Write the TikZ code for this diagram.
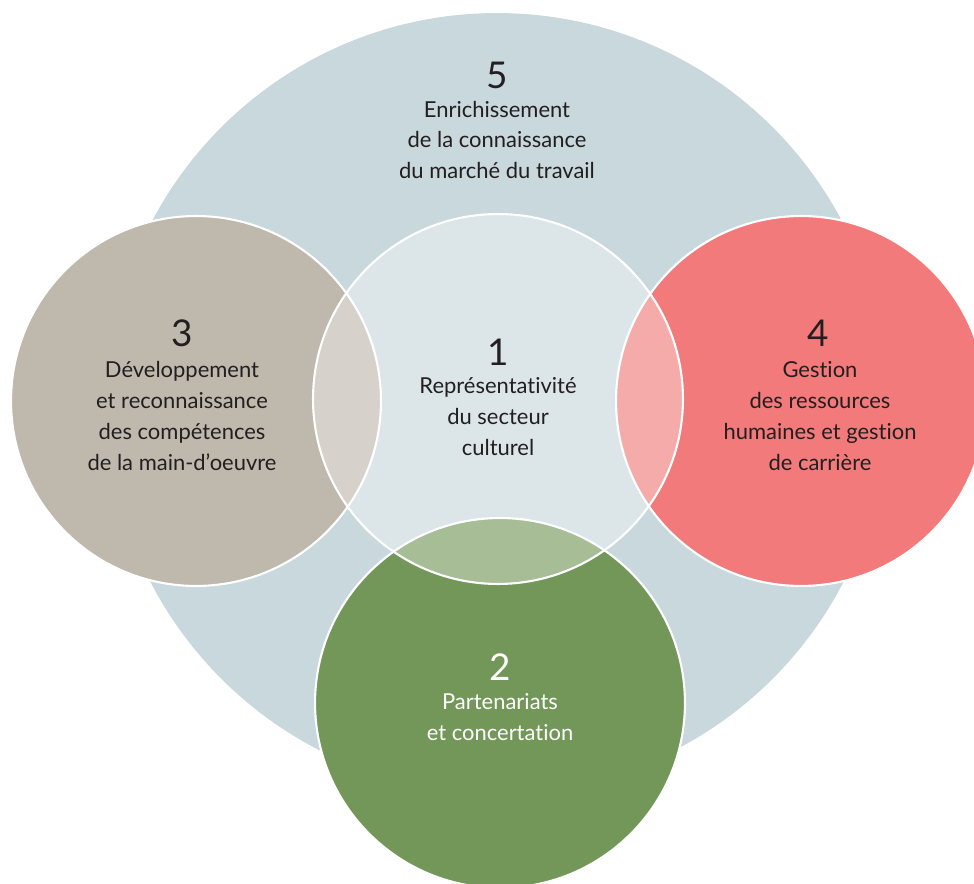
\documentclass[tikz,border=0pt]{standalone}
\usepackage{fontspec}
\setmainfont{Lato}[Ligatures=NoCommon]
\usetikzlibrary{positioning}
\definecolor{bleuciel}{HTML}{C8D8DD}
\definecolor{taupe}{HTML}{BFB8AD}
\definecolor{corail}{HTML}{F27A7A}
\definecolor{vert}{HTML}{739759}
\definecolor{encre}{HTML}{231F20}
\tikzset{
  rond/.style={circle, inner sep=0pt, minimum size=7.4cm, draw=white, line width=1.2pt},
  chiffre/.style={inner sep=0pt, font=\fontsize{21}{24}\selectfont, text=encre},
  texte/.style={inner sep=0pt, align=center, font=\fontsize{12.5}{17.6}\selectfont, text=encre}
}
\begin{document}
\begin{tikzpicture}[x=0.02cm, y=-0.02cm]
    \clip (0,0) rectangle (974,884);
    \node[rond, draw=none, fill=bleuciel, minimum size=15.6cm] (marche) at (497,403) {};
    \node[rond, fill=taupe] (competences) at (196,401) {};
    \node[rond, fill=corail] (carriere) at (801,401) {};
    \node[rond, fill=vert] (partenariats) at (500,703) {};
    \node[rond, fill=white, fill opacity=0.37] (secteur) at (498,399) {};
    % textes
    \node[chiffre] (n5) at (497,75) {5};
    \node[texte] (t5) at (497,140) {Enrichissement\\de la connaissance\\du marché du travail};
    \node[chiffre] (n1) at (498,352) {1};
    \node[texte] (t1) at (498,417) {Représentativité\\du secteur\\culturel};
    \node[chiffre] (n3) at (182,333) {3};
    \node[texte] (t3) at (182,416) {Développement\\et reconnaissance\\des compétences\\de la main-d’oeuvre};
    \node[chiffre] (n4) at (818,333) {4};
    \node[texte] (t4) at (820,416) {Gestion\\des ressources\\humaines et gestion\\de carrière};
    \node[chiffre, text=white] (n2) at (500,667) {2};
    \node[texte, text=white] (t2) at (500,717) {Partenariats\\et concertation};
\end{tikzpicture}
\end{document}
